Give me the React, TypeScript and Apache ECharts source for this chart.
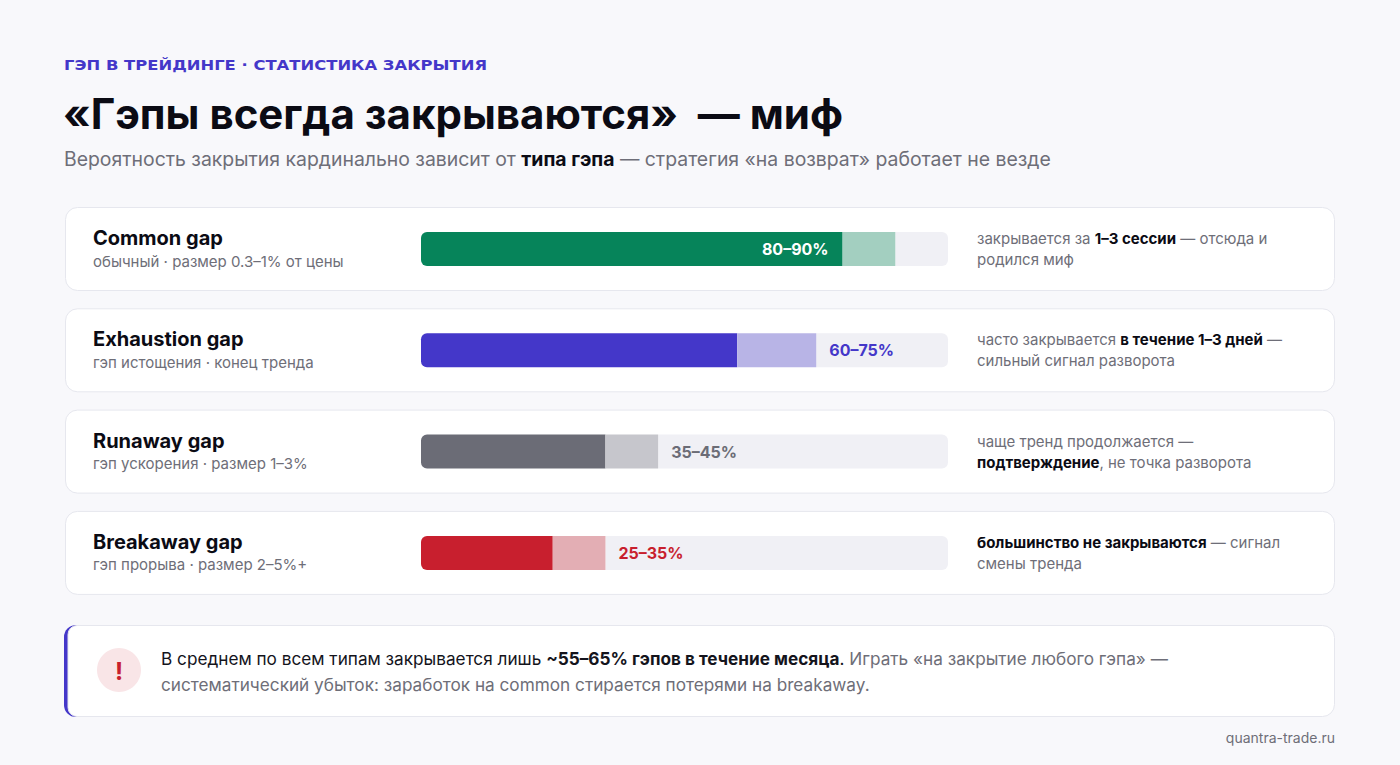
import React, { useEffect, useRef } from "react";
import * as echarts from "echarts";

const FONT = "Inter, 'Noto Sans', 'Liberation Sans', sans-serif";

const categories = ["Common gap", "Exhaustion gap", "Runaway gap", "Breakaway gap"];
const subtitles = [
  "обычный · размер 0.3–1% от цены",
  "гэп истощения · конец тренда",
  "гэп ускорения · размер 1–3%",
  "гэп прорыва · размер 2–5%+",
];
const lowValues = [80, 60, 35, 25];
const highValues = [90, 75, 45, 35];
const solidColors = ["#06845a", "#4437c9", "#6b6c76", "#c81f2e"];
const lightColors = ["#a3cfc0", "#b8b4e6", "#c6c6cc", "#e3aeb4"];
const labelColors = ["#ffffff", "#4437c9", "#6b6c76", "#c81f2e"];
// right-side notes: segments [text, bold?] per line
const notes: [string, boolean][][][] = [
  [[["закрывается за ", false], ["1–3 сессии", true], [" — отсюда и", false]], [["родился миф", false]]],
  [[["часто закрывается ", false], ["в течение 1–3 дней", true], [" —", false]], [["сильный сигнал разворота", false]]],
  [[["чаще тренд продолжается —", false]], [["подтверждение", true], [", не точка разворота", false]]],
  [[["большинство не закрываются", true], [" — сигнал", false]], [["смены тренда", false]]],
];

const GRID_LEFT = 421;
const GRID_W = 527;
const ROW_H = 101.3;
const GRID_TOP = 249 - ROW_H / 2;

function buildOption() {
  const graphic: any[] = [];
  graphic.push({
    type: "text", x: 64, y: 65, z: 1, scaleX: 1.13,
    style: { text: "ГЭП В ТРЕЙДИНГЕ · СТАТИСТИКА ЗАКРЫТИЯ", fill: "#4437c9", fontSize: 14.5, fontWeight: 700, fontFamily: "'DejaVu Sans', sans-serif", verticalAlign: "middle" },
  });
  graphic.push({
    type: "text", x: 63, y: 113, z: 1,
    style: { text: "«Гэпы всегда закрываются»  — миф", fill: "#0b0b14", fontSize: 42, fontWeight: 700, fontFamily: FONT, verticalAlign: "middle" },
  });
  graphic.push({
    type: "text", x: 64, y: 159, z: 1,
    style: {
      text: "{g|Вероятность закрытия кардинально зависит от }{b|типа гэпа}{g| — стратегия «на возврат» работает не везде}",
      verticalAlign: "middle", fontFamily: FONT,
      rich: {
        g: { fill: "#6e6e78", fontSize: 19.4, fontFamily: FONT },
        b: { fill: "#0b0b14", fontSize: 19.4, fontWeight: 700, fontFamily: FONT },
      },
    },
  });
  categories.forEach((_, i) => {
    graphic.push({
      type: "rect", z: 0,
      shape: { x: 65.5, y: 207.5 + i * ROW_H, width: 1269, height: 83, r: 12 },
      style: { fill: "#ffffff", stroke: "#e6e7ee", lineWidth: 1 },
    });
  });
  // callout
  graphic.push({ type: "rect", z: 0, shape: { x: 64, y: 625, width: 40, height: 92, r: [12, 0, 0, 12] }, style: { fill: "#4437c9" } });
  graphic.push({ type: "rect", z: 0, shape: { x: 68, y: 625.5, width: 1266.5, height: 91, r: [9, 12, 12, 9] }, style: { fill: "#ffffff", stroke: "#e6e7ee", lineWidth: 1 } });
  graphic.push({ type: "circle", z: 1, shape: { cx: 119, cy: 670, r: 22 }, style: { fill: "#f9e5e7" } });
  graphic.push({
    type: "text", x: 119, y: 671, z: 2,
    style: { text: "!", fill: "#c81f2e", fontSize: 24, fontWeight: 700, fontFamily: FONT, align: "center", verticalAlign: "middle" },
  });
  graphic.push({
    type: "text", x: 161, y: 671, z: 2,
    style: {
      text:
        "{d|В среднем по всем типам закрывается лишь }{b|~55–65% гэпов в течение месяца}{d|.}{g| Играть «на закрытие любого гэпа» —}\n{g|систематический убыток: заработок на common стирается потерями на breakaway.}",
      verticalAlign: "middle", fontFamily: FONT,
      rich: {
        d: { fill: "#14141c", fontSize: 17.2, lineHeight: 26, fontFamily: FONT },
        b: { fill: "#14141c", fontSize: 17.2, fontWeight: 700, lineHeight: 26, fontFamily: FONT },
        g: { fill: "#6e6e78", fontSize: 17.2, lineHeight: 26, fontFamily: FONT },
      },
    },
  });
  graphic.push({
    type: "text", x: 1335, y: 737, z: 1,
    style: { text: "quantra-trade.ru", fill: "#6e6e78", fontSize: 14, fontFamily: FONT, align: "right", verticalAlign: "middle" },
  });

  const rightLabel = (idx: number) =>
    notes[idx]
      .map((line) => line.map(([t, b]) => `{${b ? "b" : "g"}|${t}}`).join(""))
      .join("\n");

  const rangeText = (i: number) => `${lowValues[i]}–${highValues[i]}%`;

  return {
    animation: false,
    backgroundColor: "#f8f8fb",
    graphic,
    grid: { left: GRID_LEFT, top: GRID_TOP, width: GRID_W, height: ROW_H * categories.length, containLabel: false },
    xAxis: { type: "value", min: 0, max: 100, show: false },
    yAxis: [
      {
        type: "category", data: categories, inverse: true, z: 5,
        axisLine: { show: false }, axisTick: { show: false }, splitLine: { show: false },
        axisLabel: {
          interval: 0, align: "left", margin: GRID_LEFT - 93,
          formatter: (v: string, i: number) => `{n|${v}}\n{s|${subtitles[i]}}`,
          rich: {
            n: { fontSize: 20, fontWeight: 700, color: "#0b0b14", lineHeight: 24, fontFamily: FONT },
            s: { fontSize: 15, color: "#6e6e78", lineHeight: 22, fontFamily: FONT },
          },
        },
      },
      {
        type: "category", data: categories, inverse: true, position: "right", z: 5,
        axisLine: { show: false }, axisTick: { show: false }, splitLine: { show: false },
        axisLabel: {
          interval: 0, align: "left", margin: 977 - (GRID_LEFT + GRID_W),
          formatter: (_v: string, i: number) => rightLabel(i),
          rich: {
            g: { fontSize: 15, color: "#6e6e78", lineHeight: 21, fontFamily: FONT },
            b: { fontSize: 15, color: "#0b0b14", fontWeight: 700, lineHeight: 21, fontFamily: FONT },
          },
        },
      },
    ],
    series: [
      {
        type: "bar", stack: "t", barWidth: 34, yAxisIndex: 0,
        data: lowValues.map((v, i) => ({
          value: v,
          itemStyle: { color: solidColors[i], borderRadius: [6, 0, 0, 6] },
          label: i === 0
            ? { show: true, position: "insideRight", distance: 14, color: "#ffffff", fontSize: 16, fontWeight: 700, fontFamily: FONT, formatter: rangeText(i) }
            : { show: false },
        })),
      },
      {
        type: "bar", stack: "t", barWidth: 34, yAxisIndex: 0,
        data: highValues.map((v, i) => ({
          value: v - lowValues[i],
          itemStyle: { color: lightColors[i] },
          label: i === 0
            ? { show: false }
            : { show: true, position: "right", distance: 13, color: labelColors[i], fontSize: 16, fontWeight: 700, fontFamily: FONT, formatter: rangeText(i) },
        })),
      },
      {
        type: "bar", stack: "t", barWidth: 34, yAxisIndex: 0, z: 1,
        data: highValues.map((v) => ({ value: 100 - v, itemStyle: { color: "#f0f0f5", borderRadius: [0, 6, 6, 0] } })),
      },
    ],
  };
}

export default function App() {
  const ref = useRef<HTMLDivElement>(null);
  useEffect(() => {
    if (!ref.current) return;
    const chart = echarts.init(ref.current, null, { renderer: "svg", width: 1400, height: 765 });
    chart.setOption(buildOption() as any);
    return () => chart.dispose();
  }, []);
  return <div ref={ref} style={{ position: "fixed", left: 0, top: 0, width: 1400, height: 765 }} />;
}
